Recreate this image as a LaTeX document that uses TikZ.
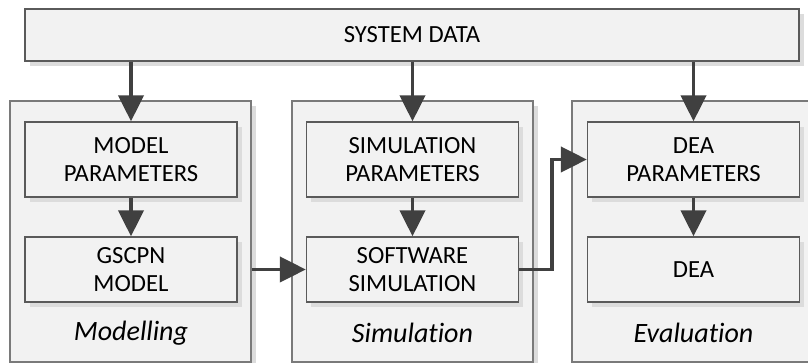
\documentclass[tikz,border=0pt]{standalone}
\usepackage{fontspec}
\setmainfont{Carlito}[Ligatures=NoCommon]
\usetikzlibrary{arrows.meta,shadows}
\definecolor{boxfill}{HTML}{F2F2F2}
\definecolor{innerline}{HTML}{5A5A5A}
\definecolor{outerline}{HTML}{7A7A7A}
\definecolor{shadowgray}{HTML}{DCDCDC}
\definecolor{arrowgray}{HTML}{404040}
\tikzset{
  shadowed/.style={drop shadow={shadow xshift=3.5pt,shadow yshift=-3.5pt,fill=shadowgray,opacity=1}},
  topbox/.style={draw=innerline,fill=boxfill,line width=1.1pt,shadowed,minimum width=580.5pt,minimum height=39pt,inner sep=0pt,
    font=\fontsize{18.5pt}{21pt}\selectfont},
  outerbox/.style={draw=outerline,fill=boxfill,line width=1.3pt,shadowed,minimum width=180.75pt,minimum height=195.75pt,inner sep=0pt},
  innerbox/.style={draw=innerline,fill=boxfill,line width=1.1pt,shadowed,minimum width=159pt,inner sep=0pt,align=center,
    font=\fontsize{18.5pt}{21pt}\selectfont},
  upperbox/.style={innerbox,minimum height=56.25pt},
  lowerbox/.style={innerbox,minimum height=48.75pt},
  phase/.style={font=\fontsize{21pt}{24pt}\selectfont\itshape,inner sep=0pt},
  arr/.style={draw=arrowgray,line width=2.5pt,-{Triangle[length=19.5pt,width=19pt,fill=arrowgray]}}
}
\begin{document}
\begin{tikzpicture}[x=0.75pt,y=-0.75pt]
\useasboundingbox (0,0) rectangle (808,363);
\clip (0,0) rectangle (808,363);
\fill[white] (0,0) rectangle (808,363);
% top
\node[topbox] (sys) at (412,35) {SYSTEM DATA};
% outer phase boxes
\node[outerbox] (mod) at (130.5,231.5) {};
\node[outerbox] (sim) at (412.5,231.5) {};
\node[outerbox] (eva) at (692.5,231.5) {};
% inner boxes
\node[upperbox] (mp) at (131,159.5) {MODEL\\PARAMETERS};
\node[lowerbox] (gm) at (131,269.5) {GSCPN\\MODEL};
\node[upperbox] (sp) at (412.5,159.5) {SIMULATION\\PARAMETERS};
\node[lowerbox] (ss) at (412.5,269.5) {SOFTWARE\\SIMULATION};
\node[upperbox] (dp) at (693.5,159.5) {DEA\\PARAMETERS};
\node[lowerbox] (dea) at (693.5,269.5) {DEA};
% labels
\node[phase] (lm) at (131,333) {Modelling};
\node[phase] (ls) at (412.5,333) {Simulation};
\node[phase] (le) at (693.5,333) {Evaluation};
% arrows
\draw[arr] (sys.south -| mp.north) -- (mp.north);
\draw[arr] (sys.south -| sp.north) -- (sp.north);
\draw[arr] (sys.south -| dp.north) -- (dp.north);
\draw[arr] (mp.south) -- (gm.north);
\draw[arr] (sp.south) -- (ss.north);
\draw[arr] (dp.south) -- (dea.north);
\draw[arr] (gm.east -| mod.east) -- (ss.west);
\coordinate (bend) at (552,0);
\draw[arr] (ss.east) -- (bend |- ss.east) -- (bend |- dp.west) -- (dp.west);
\end{tikzpicture}
\end{document}
